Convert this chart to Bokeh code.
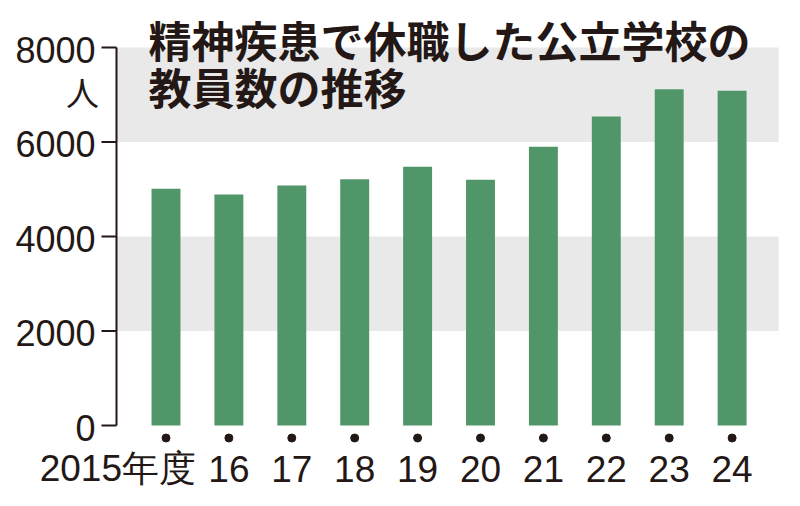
from bokeh.plotting import figure
from bokeh.models import Range1d, Label
from bokeh.core.properties import value
from bokeh.embed import file_html
from bokeh.resources import INLINE

# data
years = [2015, 2016, 2017, 2018, 2019, 2020, 2021, 2022, 2023, 2024]
year_labels = ["2015年度", "16", "17", "18", "19", "20", "21", "22", "23", "24"]
teachers = [5009, 4891, 5077, 5212, 5478, 5203, 5897, 6539, 7119, 7087]
y_ticks = [0, 2000, 4000, 6000, 8000]
band_lo = [2000, 6000]
band_hi = [4000, 8000]
unit_label = "人"
title_lines = ["精神疾患で休職した公立学校の", "教員数の推移"]

INK = "#231815"
GREEN = "#509669"
BAND = "#e9e9e9"
JP = "Noto Sans CJK JP"
NUM = "Liberation Sans"

W, H = 784, 490
# pixel geometry of the frame (the frame fills the whole canvas)
px_per_year = 62.9
upp = 8000 / 378.0            # value units per pixel
x_lo = years[0] - 165.5 / px_per_year
x_hi = x_lo + W / px_per_year
y_hi = y_ticks[-1] + 47 * upp
y_lo = -(H - 425) * upp
axis_x = x_lo + 116 / px_per_year
tick_len = 15 / px_per_year
band_right = years[-1] + 46.5 / px_per_year

p = figure(width=W, height=H, x_range=Range1d(x_lo, x_hi), y_range=Range1d(y_lo, y_hi),
           output_backend="svg", toolbar_location=None,
           x_axis_location=None, y_axis_location=None,
           min_border_left=0, min_border_right=0, min_border_top=0, min_border_bottom=0)
p.outline_line_color = None
p.xgrid.visible = False
p.ygrid.visible = False
p.background_fill_color = "white"
p.border_fill_color = "white"

# grey bands
p.quad(left=axis_x, right=band_right, bottom=band_lo, top=band_hi,
       fill_color=BAND, line_color=None)

p.vbar(x=years, top=teachers, width=0.46, fill_color=GREEN, line_color=None)

# y axis: line, ticks, labels
p.segment(x0=[axis_x], y0=[y_ticks[0]], x1=[axis_x], y1=[y_ticks[-1]],
          line_color=INK, line_width=2)
p.segment(x0=[axis_x - tick_len] * len(y_ticks), y0=y_ticks,
          x1=[axis_x] * len(y_ticks), y1=y_ticks, line_color=INK, line_width=2)
p.text(x=[axis_x] * len(y_ticks), y=y_ticks, text=[str(t) for t in y_ticks],
       x_offset=-21, y_offset=2, text_align="right", text_baseline="middle",
       text_color=INK, text_font=value(NUM), text_font_size="36px")
p.text(x=[axis_x], y=[y_ticks[-1]], text=[unit_label], x_offset=-34, y_offset=44,
       text_align="center", text_baseline="middle", text_color=INK,
       text_font=value(JP), text_font_size="33px")

# little dots under each bar
p.scatter(x=years, y=[-12.5 * upp] * len(years), size=8, color=INK)

# year labels; the first one carries the unit and hangs to the left
p.text(x=years[1:], y=[0] * (len(years) - 1), text=year_labels[1:], y_offset=43,
       text_align="center", text_baseline="middle", text_color=INK,
       text_font=value(NUM), text_font_size="37px")
p.text(x=[years[0]], y=[0], text=[year_labels[0]], x_offset=30, y_offset=43,
       text_align="right", text_baseline="middle", text_color=INK,
       text_font=value(NUM), text_font_size="37px")

for i, line in enumerate(title_lines):
    p.add_layout(Label(x=axis_x, y=y_ticks[-1], x_offset=32, y_offset=9 - 47 * i, text=line,
                       text_align="left", text_baseline="middle", text_color=INK,
                       text_font=JP, text_font_style="bold", text_font_size="43px"))

open("out.html", "w").write(file_html(p, INLINE))
